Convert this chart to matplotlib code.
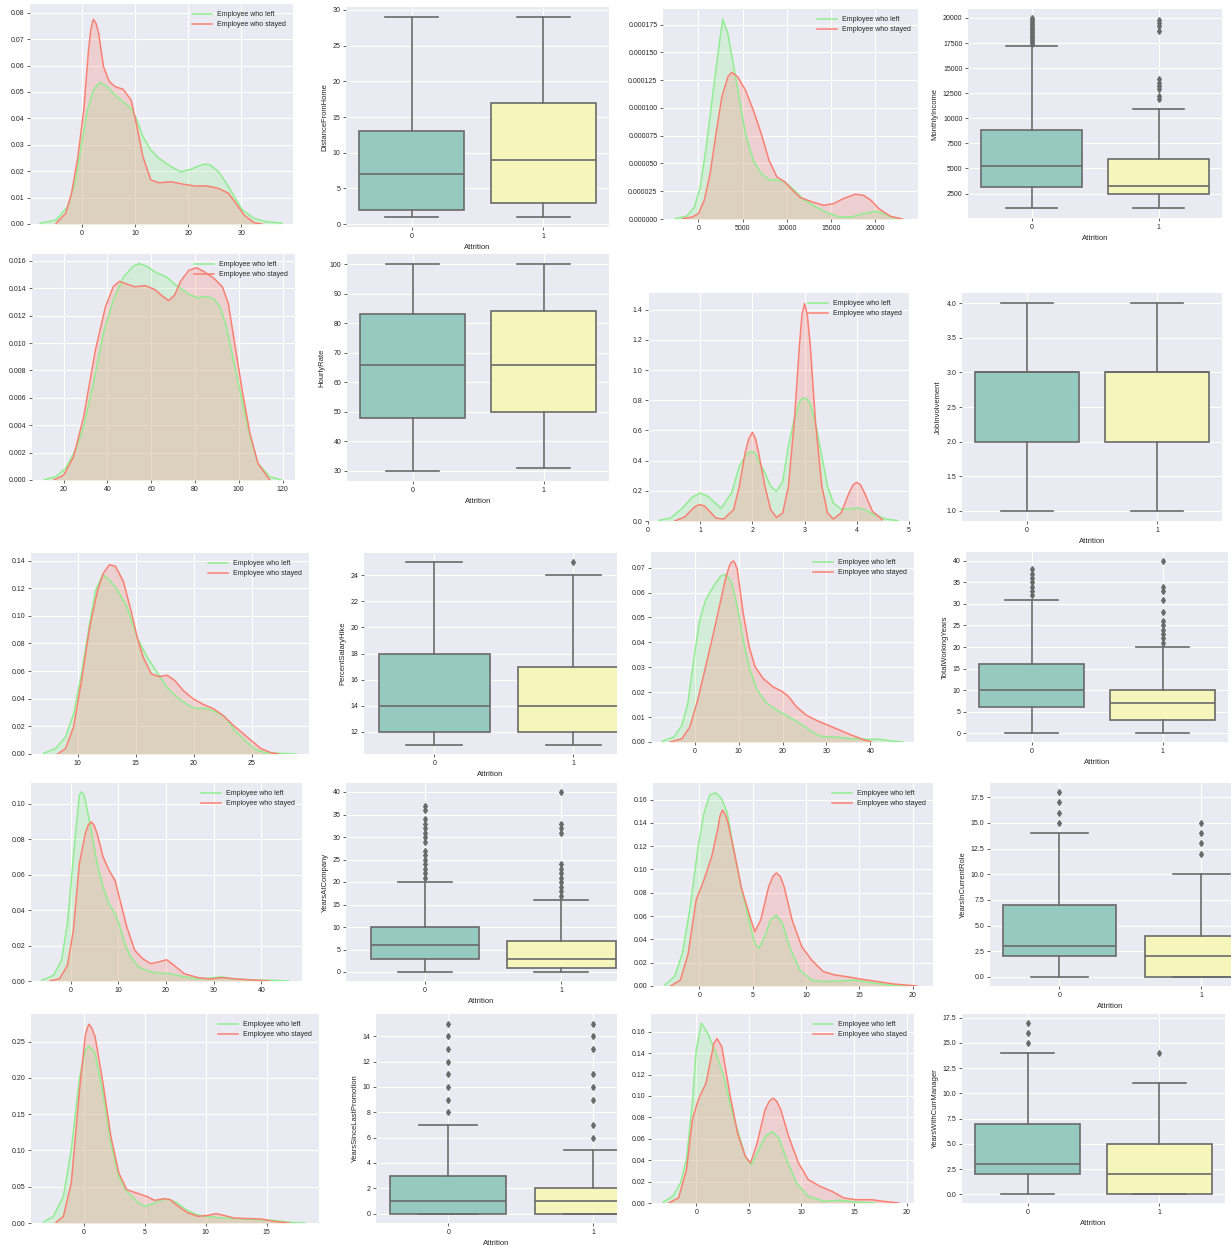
import matplotlib
matplotlib.use('Agg')
import matplotlib.pyplot as plt
from matplotlib.ticker import MultipleLocator, FormatStrFormatter

plt.rcParams['font.family'] = ['Liberation Sans', 'DejaVu Sans']
plt.rcParams['axes.facecolor'] = '#EAEAF2'
plt.rcParams['axes.edgecolor'] = 'white'
plt.rcParams['grid.color'] = 'white'
plt.rcParams['text.color'] = '.15'
plt.rcParams['axes.labelcolor'] = '.15'
plt.rcParams['xtick.color'] = '.15'
plt.rcParams['ytick.color'] = '.15'

W, H = 1231, 1245
GREEN = '#90EE90'
RED = '#FA8072'
TEAL = '#96CAC1'
YELLOW = '#F6F6BC'
LINE = '#6A6A6A'

# ---- KDE curves (left = "Employee who left", stay = "Employee who stayed") ----
dist_x_left = [-7.8, -4.8, -2.6, -1.1, 0.0, 1.1, 2.2, 3.4, 4.8, 6.3, 7.8, 9.3, 10.4, 11.5, 13.0, 14.5, 16.8, 18.6,
               20.5, 22.0, 23.1, 24.2, 25.7, 27.2, 28.7, 30.2, 32.4, 34.6, 37.6]
dist_y_left = [0.0003, 0.0015, 0.0066, 0.0167, 0.0305, 0.0432, 0.0507, 0.0536, 0.0520, 0.0488, 0.0463, 0.0438, 0.0394,
               0.0331, 0.0280, 0.0249, 0.0217, 0.0198, 0.0207, 0.0220, 0.0227, 0.0223, 0.0198, 0.0154, 0.0103, 0.0053,
               0.0021, 0.0009, 0.0003]
dist_x_stay = [-4.8, -3.0, -1.9, -0.7, 0.4, 1.3, 1.75, 2.2, 2.7, 3.2, 4.1, 5.2, 6.3, 7.8, 9.3, 10.4, 11.5, 13.0, 14.5,
               16.8, 19.0, 21.2, 23.5, 25.7, 27.6, 29.0, 30.5, 32.4, 33.9]
dist_y_stay = [0.0003, 0.0040, 0.0116, 0.0255, 0.0432, 0.0659, 0.0740, 0.0775, 0.0760, 0.0722, 0.0596, 0.0539, 0.0520,
               0.0510, 0.0469, 0.0369, 0.0255, 0.0167, 0.0156, 0.0160, 0.0151, 0.0144, 0.0144, 0.0135, 0.0116, 0.0078,
               0.0034, 0.0005, 0.0]

inc_x_left = [-2660, -1330, -440, 220, 890, 1550, 2220, 2750, 3330, 4000, 4660, 5320, 6210, 7100, 7980, 8870, 9760,
              10650, 11980, 13300, 14640, 15970, 17300, 18630, 19960, 20840, 21730, 23060]
inc_y_left = [0.0000003, 0.0000024, 0.0000108, 0.000029, 0.000065, 0.000107, 0.000149, 0.000180, 0.000167, 0.000137,
              0.000107, 0.000077, 0.000053, 0.000041, 0.0000355, 0.000035, 0.0000334, 0.0000274, 0.0000169, 0.0000108,
              0.0000054, 0.0000018, 0.0000018, 0.0000048, 0.0000069, 0.0000054, 0.0000018, 0.0]
inc_x_stay = [-1770, -670, 0, 670, 1330, 2000, 2660, 3330, 3770, 4440, 5320, 6210, 7100, 7980, 8870, 9760, 10650,
              11530, 12860, 14190, 15300, 16410, 17740, 18630, 19510, 20400, 21730, 23060]
inc_y_stay = [0.0000003, 0.0000018, 0.0000048, 0.0000169, 0.000041, 0.000077, 0.000110, 0.000128, 0.000132, 0.000128,
              0.000116, 0.000098, 0.000077, 0.000053, 0.000038, 0.0000334, 0.0000259, 0.0000193, 0.0000154, 0.0000123,
              0.0000139, 0.0000184, 0.0000223, 0.0000214, 0.0000169, 0.0000093, 0.0000024, 0.0]

rate_x_left = [10.9, 16.4, 20.9, 25.4, 29.1, 33.6, 38.1, 42.6, 47.2, 51.7, 54.4, 58.0, 61.7, 67.1, 70.7, 74.3, 77.9,
               81.6, 85.2, 88.8, 91.6, 94.3, 97.9, 101.5, 105.1, 108.8, 114.2, 119.6]
rate_y_left = [0.0, 0.00024, 0.00085, 0.0022, 0.0039, 0.0071, 0.0107, 0.0131, 0.0148, 0.0156, 0.0158, 0.0156, 0.0152,
               0.0148, 0.0143, 0.0139, 0.0135, 0.0133, 0.0134, 0.0132, 0.0126, 0.0112, 0.0085, 0.0058, 0.0032, 0.0012,
               0.00024, 0.0]
rate_x_stay = [15.5, 20.0, 24.5, 29.1, 34.5, 39.0, 42.6, 45.4, 49.0, 52.6, 57.1, 61.7, 65.3, 68.0, 70.7, 73.4, 77.1,
               80.7, 84.3, 88.8, 92.5, 95.2, 97.9, 101.5, 105.1, 108.8, 114.2]
rate_y_stay = [0.0, 0.00036, 0.0017, 0.0046, 0.0095, 0.0126, 0.0141, 0.0145, 0.0143, 0.0141, 0.0142, 0.0139, 0.0134,
               0.0131, 0.0135, 0.0145, 0.0153, 0.0155, 0.0152, 0.0147, 0.0141, 0.0129, 0.0102, 0.0066, 0.0034, 0.0012,
               0.0]

inv_x_left = [0.21, 0.44, 0.66, 0.85, 1.0, 1.15, 1.40, 1.60, 1.75, 1.86, 1.93, 2.0, 2.06, 2.12, 2.24, 2.35, 2.46, 2.58,
              2.69, 2.80, 2.91, 2.95, 3.0, 3.05, 3.10, 3.21, 3.33, 3.44, 3.55, 3.70, 3.85, 4.0, 4.15, 4.34, 4.56, 4.79]
inv_y_left = [0.004, 0.02, 0.086, 0.159, 0.185, 0.163, 0.084, 0.185, 0.362, 0.428, 0.452, 0.461, 0.445, 0.395, 0.318,
              0.230, 0.196, 0.263, 0.495, 0.671, 0.793, 0.810, 0.815, 0.805, 0.782, 0.649, 0.428, 0.230, 0.119, 0.079,
              0.079, 0.088, 0.075, 0.042, 0.013, 0.002]
inv_x_stay = [0.51, 0.70, 0.85, 0.92, 1.0, 1.08, 1.15, 1.30, 1.45, 1.64, 1.75, 1.86, 1.93, 2.0, 2.06, 2.12, 2.24, 2.35,
              2.46, 2.58, 2.69, 2.80, 2.85, 2.90, 2.95, 3.0, 3.05, 3.11, 3.16, 3.21, 3.33, 3.44, 3.55, 3.70, 3.85,
              3.93, 4.0, 4.07, 4.15, 4.30, 4.49]
inv_y_stay = [0.0, 0.026, 0.079, 0.100, 0.108, 0.100, 0.075, 0.02, 0.013, 0.075, 0.230, 0.450, 0.545, 0.587, 0.545,
              0.450, 0.230, 0.075, 0.024, 0.053, 0.230, 0.649, 0.900, 1.157, 1.370, 1.440, 1.370, 1.157, 0.900, 0.649,
              0.230, 0.053, 0.013, 0.053, 0.185, 0.240, 0.256, 0.240, 0.185, 0.064, 0.009]

hike_x_left = [7.09, 8.12, 8.97, 9.66, 10.34, 11.03, 11.54, 12.16, 12.74, 13.42, 14.28, 15.14, 15.99, 16.85, 17.71,
               18.56, 19.42, 20.1, 21.13, 21.99, 22.67, 23.53, 24.38, 25.24, 26.1, 27.3, 28.8]
hike_y_left = [0.0005, 0.004, 0.0124, 0.029, 0.058, 0.094, 0.118, 0.130, 0.126, 0.119, 0.106, 0.084, 0.070, 0.059,
               0.048, 0.041, 0.036, 0.033, 0.033, 0.030, 0.027, 0.017, 0.010, 0.0034, 0.001, 0.0005, 0.0]
hike_x_stay = [8.29, 8.97, 9.66, 10.34, 11.03, 11.71, 12.23, 12.74, 13.25, 13.94, 14.62, 15.14, 15.65, 16.34, 17.02,
               17.71, 18.39, 19.08, 19.93, 20.79, 21.64, 22.5, 23.36, 24.21, 24.9, 25.75, 26.61, 27.3]
hike_y_stay = [0.0, 0.004, 0.0196, 0.053, 0.091, 0.118, 0.131, 0.137, 0.136, 0.125, 0.103, 0.084, 0.070, 0.058, 0.056,
               0.057, 0.053, 0.046, 0.040, 0.036, 0.033, 0.028, 0.021, 0.015, 0.010, 0.004, 0.001, 0.0]

twy_x_left = [-7.37, -4.67, -2.88, -1.53, -0.18, 1.17, 2.52, 4.31, 5.93, 7.01, 8.36, 9.71, 11.06, 12.4, 14.2, 16.45,
              18.7, 21.4, 24.1, 26.8, 28.6, 32.2, 35.8, 39.4, 42.1, 44.8, 47.5]
twy_y_left = [0.0003, 0.002, 0.0067, 0.0155, 0.033, 0.049, 0.057, 0.0626, 0.0666, 0.0673, 0.0646, 0.0545, 0.041, 0.0303,
              0.0209, 0.0155, 0.0128, 0.0101, 0.0074, 0.004, 0.0023, 0.002, 0.0013, 0.0011, 0.0011, 0.0004, 0.0]
twy_x_stay = [-5.57, -2.88, -1.08, 0.72, 2.52, 4.31, 5.66, 7.01, 7.91, 8.4, 8.81, 9.2, 9.71, 11.06, 12.4, 13.75, 15.55,
              17.8, 20.0, 21.4, 23.2, 25.4, 27.7, 30.4, 33.1, 35.8, 38.5, 40.3]
twy_y_stay = [0.0, 0.0013, 0.006, 0.0168, 0.0303, 0.0437, 0.0545, 0.0653, 0.0707, 0.0722, 0.0727, 0.0718, 0.0693,
              0.0518, 0.0384, 0.0303, 0.0256, 0.0222, 0.0202, 0.0182, 0.0141, 0.0108, 0.0087, 0.0067, 0.0047, 0.0027,
              0.0009, 0.0]

yac_x_left = [-6.06, -3.57, -1.91, -0.66, 0.58, 1.83, 2.24, 2.7, 3.07, 4.32, 5.56, 6.8, 8.05, 9.3, 10.12, 11.37, 12.61,
              14.27, 16.35, 18.42, 20.9, 23.4, 26.7, 30.0, 31.7, 34.2, 38.3, 42.5, 45.8]
yac_y_left = [0.0004, 0.0032, 0.0117, 0.0323, 0.070, 0.1047, 0.1066, 0.1055, 0.102, 0.085, 0.066, 0.053, 0.0436, 0.038,
              0.0323, 0.021, 0.0135, 0.0079, 0.0055, 0.0045, 0.0041, 0.0026, 0.0011, 0.0019, 0.0023, 0.0011, 0.0006,
              0.0004, 0.0]
yac_x_stay = [-4.4, -2.32, -0.66, 0.58, 1.83, 3.07, 3.7, 4.32, 4.9, 5.56, 6.8, 8.05, 9.3, 10.54, 11.78, 13.44, 15.1,
              16.76, 18.42, 20.1, 21.7, 23.8, 26.7, 29.2, 31.7, 35.0, 39.2, 41.7]
yac_y_stay = [0.0, 0.0013, 0.0088, 0.0286, 0.066, 0.083, 0.088, 0.0897, 0.088, 0.083, 0.070, 0.0624, 0.0568, 0.0436,
              0.0305, 0.0173, 0.0126, 0.0098, 0.0107, 0.012, 0.0088, 0.0041, 0.0019, 0.0011, 0.0019, 0.0011, 0.0004,
              0.0]

role_x_left = [-3.23, -2.31, -1.58, -0.84, -0.11, 0.44, 0.99, 1.54, 2.09, 2.64, 3.19, 3.93, 4.66, 5.21, 5.58, 6.13,
               6.68, 7.23, 7.78, 8.51, 9.43, 10.53, 11.63, 13.1, 14.57, 16.04, 17.87, 19.7]
role_y_left = [0.0009, 0.008, 0.028, 0.068, 0.119, 0.148, 0.164, 0.1657, 0.161, 0.148, 0.119, 0.085, 0.0566, 0.0366,
               0.0323, 0.0423, 0.0566, 0.0609, 0.0537, 0.0323, 0.0137, 0.0051, 0.0037, 0.0043, 0.0051, 0.0029, 0.0009,
               0.0]
role_x_stay = [-2.68, -1.76, -1.03, -0.29, 0.44, 1.17, 1.72, 1.95, 2.17, 2.4, 2.64, 3.19, 3.93, 4.66, 5.21, 5.76, 6.5,
               6.9, 7.23, 7.6, 7.96, 8.7, 9.61, 10.53, 11.63, 12.73, 13.83, 15.3, 16.77, 18.24, 20.4]
role_y_stay = [0.0, 0.0051, 0.028, 0.0737, 0.0909, 0.111, 0.134, 0.146, 0.151, 0.148, 0.142, 0.119, 0.085, 0.0623,
               0.0466, 0.0566, 0.085, 0.094, 0.097, 0.094, 0.085, 0.0566, 0.0337, 0.0223, 0.0123, 0.0094, 0.008, 0.0057,
               0.0037, 0.0017, 0.0]

promo_x_left = [-3.32, -2.51, -1.69, -1.04, -0.39, 0.1, 0.42, 0.91, 1.56, 2.21, 2.86, 3.51, 4.33, 4.98, 5.63, 6.44, 6.93,
                7.58, 8.4, 9.21, 10.02, 11.32, 12.63, 14.25, 15.55, 16.86, 18.16]
promo_y_left = [0.0014, 0.0092, 0.0367, 0.101, 0.197, 0.2385, 0.244, 0.234, 0.179, 0.110, 0.064, 0.0436, 0.0298, 0.0229,
                0.0266, 0.0321, 0.033, 0.0284, 0.0183, 0.0115, 0.0092, 0.0069, 0.006, 0.0046, 0.0037, 0.0009, 0.0]
promo_x_stay = [-2.34, -1.69, -1.04, -0.39, 0.1, 0.25, 0.42, 0.65, 0.91, 1.56, 2.21, 2.86, 3.51, 4.33, 5.14, 5.79, 6.61,
                7.09, 7.74, 8.56, 9.37, 10.19, 10.84, 11.49, 12.3, 13.6, 14.58, 15.55, 16.86]
promo_y_stay = [0.0, 0.0092, 0.055, 0.179, 0.257, 0.268, 0.274, 0.268, 0.257, 0.193, 0.119, 0.069, 0.0459, 0.0413,
                0.0367, 0.0312, 0.0335, 0.0321, 0.0229, 0.0138, 0.0092, 0.0105, 0.0128, 0.0105, 0.0069, 0.006, 0.0055,
                0.0023, 0.0]

mgr_x_left = [-3.18, -2.24, -1.5, -0.93, -0.37, 0.0, 0.49, 1.12, 1.87, 2.62, 3.36, 4.11, 4.67, 5.23, 5.79, 6.54, 7.21,
              7.85, 8.6, 9.53, 10.65, 12.15, 13.64, 15.14, 17.0]
mgr_y_left = [0.0006, 0.0062, 0.0186, 0.0404, 0.0932, 0.143, 0.168, 0.158, 0.14, 0.118, 0.087, 0.062, 0.0435, 0.0357,
              0.0466, 0.062, 0.0668, 0.0606, 0.0404, 0.0186, 0.0062, 0.0016, 0.0025, 0.0009, 0.0]
mgr_x_stay = [-2.62, -1.68, -0.93, -0.37, 0.19, 0.93, 1.68, 1.98, 2.43, 3.18, 3.93, 4.67, 5.16, 5.79, 6.54, 6.95, 7.29,
              7.65, 8.04, 8.79, 9.72, 10.65, 11.78, 12.9, 14.02, 15.14, 16.64, 17.76, 19.25]
mgr_y_stay = [0.0, 0.0047, 0.031, 0.0777, 0.0963, 0.112, 0.149, 0.1535, 0.146, 0.1025, 0.065, 0.0435, 0.0373, 0.056,
              0.087, 0.095, 0.0979, 0.095, 0.087, 0.062, 0.0373, 0.0218, 0.0155, 0.0109, 0.0047, 0.0031, 0.0031, 0.0016,
              0.0]

# ---- boxplot summaries: [whislo, q1, med, q3, whishi], fliers (Attrition 0 / 1) ----
dist_box0 = [1, 2, 7, 13, 29]
dist_box1 = [1, 3, 9, 17, 29]
dist_fl0, dist_fl1 = [], []

inc_box0 = [1009, 3200, 5250, 8850, 17200]
inc_box1 = [1009, 2430, 3300, 5930, 10900]
inc_fl0 = [17400, 17600, 17800, 18000, 18200, 18400, 18600, 18800, 19000, 19200, 19400, 19600, 19800, 19950]
inc_fl1 = [11900, 12250, 12900, 13200, 13550, 13900, 18750, 19200, 19550, 19850]

rate_box0 = [30, 48, 66, 83, 100]
rate_box1 = [31, 50, 66, 84, 100]
rate_fl0, rate_fl1 = [], []

inv_box0 = [1, 2, 3, 3, 4]
inv_box1 = [1, 2, 3, 3, 4]
inv_fl0, inv_fl1 = [], []

hike_box0 = [11, 12, 14, 18, 25]
hike_box1 = [11, 12, 14, 17, 24]
hike_fl0, hike_fl1 = [], [25]

twy_box0 = [0, 6, 10, 16, 31]
twy_box1 = [0, 3, 7, 10, 20]
twy_fl0 = [32, 33, 34, 35, 36, 37, 38]
twy_fl1 = [21, 22, 23, 24, 25, 26, 28, 31, 33, 34, 40]

yac_box0 = [0, 3, 6, 10, 20]
yac_box1 = [0, 1, 3, 7, 16]
yac_fl0 = [21, 22, 23, 24, 25, 26, 27, 29, 30, 31, 32, 33, 34, 36, 37]
yac_fl1 = [17, 18, 19, 20, 21, 22, 23, 24, 31, 32, 33, 40]

role_box0 = [0, 2, 3, 7, 14]
role_box1 = [0, 0, 2, 4, 10]
role_fl0 = [15, 16, 17, 18]
role_fl1 = [12, 13, 14, 15]

promo_box0 = [0, 0, 1, 3, 7]
promo_box1 = [0, 0, 1, 2, 5]
promo_fl0 = [8, 9, 10, 11, 12, 13, 14, 15]
promo_fl1 = [6, 7, 9, 10, 11, 13, 14, 15]

mgr_box0 = [0, 2, 3, 7, 14]
mgr_box1 = [0, 0, 2, 5, 11]
mgr_fl0 = [15, 16, 17]
mgr_fl1 = [14]

fig = plt.figure(figsize=(W / 100, H / 100), dpi=100)


def add_ax(left, top, right, bottom):
    # pixel box -> figure fraction
    return fig.add_axes([left / W, 1 - bottom / H, (right - left) / W, (bottom - top) / H])


def style(ax):
    ax.grid(True, color='white', linewidth=0.8)
    ax.set_axisbelow(True)
    for s in ax.spines.values():
        s.set_visible(False)
    ax.tick_params(labelsize=5, length=2, width=0.5, pad=2)


def kde_panel(box, xl, yl, xs, ys, xlim, ytop, xstep, ystep, yfmt):
    ax = add_ax(*box)
    ax.plot(xl, yl, color=GREEN, lw=1.1, label='Employee who left')
    ax.fill_between(xl, yl, color=GREEN, alpha=0.25, lw=0)
    ax.plot(xs, ys, color=RED, lw=1.1, label='Employee who stayed')
    ax.fill_between(xs, ys, color=RED, alpha=0.25, lw=0)
    ax.set_xlim(*xlim)
    ax.set_ylim(0, ytop)
    ax.xaxis.set_major_locator(MultipleLocator(xstep))
    ax.yaxis.set_major_locator(MultipleLocator(ystep))
    ax.xaxis.set_major_formatter(FormatStrFormatter('%d'))
    ax.yaxis.set_major_formatter(FormatStrFormatter(yfmt))
    style(ax)
    ax.legend(loc='upper right', frameon=False, fontsize=5, handlelength=2.8, borderaxespad=0.6)
    return ax


def box_panel(box, b0, b1, fl0, fl1, ylabel, xlim, ystep, yfmt):
    ax = add_ax(*box)
    stats = []
    for b, fl in ((b0, fl0), (b1, fl1)):
        stats.append(dict(whislo=b[0], q1=b[1], med=b[2], q3=b[3], whishi=b[4], fliers=fl))
    parts = ax.bxp(stats, positions=[0, 1], widths=0.8, patch_artist=True,
                   boxprops=dict(edgecolor=LINE, linewidth=1.2),
                   medianprops=dict(color=LINE, linewidth=1.2),
                   whiskerprops=dict(color=LINE, linewidth=1.2),
                   capprops=dict(color=LINE, linewidth=1.2),
                   flierprops=dict(marker='d', markerfacecolor=LINE, markeredgecolor=LINE, markersize=3))
    for patch, c in zip(parts['boxes'], [TEAL, YELLOW]):
        patch.set_facecolor(c)
    ax.set_xlim(*xlim)
    ax.set_xticks([0, 1])
    ax.set_xticklabels(['0', '1'])
    ax.yaxis.set_major_locator(MultipleLocator(ystep))
    ax.yaxis.set_major_formatter(FormatStrFormatter(yfmt))
    ax.set_xlabel('Attrition', fontsize=5.5, labelpad=3)
    ax.set_ylabel(ylabel, fontsize=5.5, labelpad=3)
    style(ax)
    return ax


# row 1
kde_panel((30, 4, 293, 224), dist_x_left, dist_y_left, dist_x_stay, dist_y_stay,
          (-9.7, 39.7), 0.0833, 10, 0.01, '%.2f')
box_panel((346, 7, 609, 227), dist_box0, dist_box1, dist_fl0, dist_fl1, 'DistanceFromHome',
          (-0.5, 1.5), 5, '%d')
kde_panel((663, 9, 918, 219), inc_x_left, inc_y_left, inc_x_stay, inc_y_stay,
          (-4000, 24830), 0.000189, 5000, 0.000025, '%.6f')
box_panel((968, 9, 1222, 218), inc_box0, inc_box1, inc_fl0, inc_fl1, 'MonthlyIncome',
          (-0.5, 1.5), 2500, '%d')

# row 2
kde_panel((32, 254, 295, 480), rate_x_left, rate_y_left, rate_x_stay, rate_y_stay,
          (5.5, 125.7), 0.0165, 20, 0.002, '%.3f')
box_panel((347, 254, 609, 481), rate_box0, rate_box1, rate_fl0, rate_fl1, 'HourlyRate',
          (-0.5, 1.5), 10, '%d')
kde_panel((648, 293, 909, 521), inv_x_left, inv_y_left, inv_x_stay, inv_y_stay,
          (0, 5), 1.51, 1, 0.2, '%.1f')
box_panel((962, 293, 1222, 521), inv_box0, inv_box1, inv_fl0, inv_fl1, 'JobInvolvement',
          (-0.5, 1.5), 0.5, '%.1f')

# row 3
kde_panel((31, 553, 309, 754), hike_x_left, hike_y_left, hike_x_stay, hike_y_stay,
          (6.0, 29.9), 0.1455, 5, 0.02, '%.2f')
box_panel((364, 553, 617, 754), hike_box0, hike_box1, hike_fl0, hike_fl1, 'PercentSalaryHike',
          (-0.505, 1.314), 2, '%d')
kde_panel((651, 552, 914, 742), twy_x_left, twy_y_left, twy_x_stay, twy_y_stay,
          (-9.9, 49.9), 0.0763, 10, 0.01, '%.2f')
box_panel((966, 552, 1228, 742), twy_box0, twy_box1, twy_fl0, twy_fl1, 'TotalWorkingYears',
          (-0.5, 1.5), 5, '%d')

# row 4
kde_panel((31, 783, 302, 981), yac_x_left, yac_y_left, yac_x_stay, yac_y_stay,
          (-8.3, 48.5), 0.1116, 10, 0.02, '%.2f')
box_panel((346, 783, 617, 981), yac_box0, yac_box1, yac_fl0, yac_fl1, 'YearsAtCompany',
          (-0.58, 1.41), 5, '%d')
kde_panel((653, 783, 933, 986), role_x_left, role_y_left, role_x_stay, role_y_stay,
          (-4.33, 21.9), 0.1742, 5, 0.02, '%.2f')
box_panel((990, 783, 1231, 986), role_box0, role_box1, role_fl0, role_fl1, 'YearsInCurrentRole',
          (-0.49, 1.21), 2.5, '%.1f')

# row 5
kde_panel((31, 1014, 319, 1223), promo_x_left, promo_y_left, promo_x_stay, promo_y_stay,
          (-4.35, 19.3), 0.288, 5, 0.05, '%.2f')
box_panel((376, 1014, 617, 1223), promo_box0, promo_box1, promo_fl0, promo_fl1, 'YearsSinceLastPromotion',
          (-0.5, 1.165), 2, '%d')
kde_panel((651, 1014, 914, 1203), mgr_x_left, mgr_y_left, mgr_x_stay, mgr_y_stay,
          (-4.3, 20.7), 0.1765, 5, 0.02, '%.2f')
box_panel((962, 1014, 1225, 1203), mgr_box0, mgr_box1, mgr_fl0, mgr_fl1, 'YearsWithCurrManager',
          (-0.5, 1.5), 2.5, '%.1f')

fig.savefig('out.png', dpi=100, facecolor='white')
